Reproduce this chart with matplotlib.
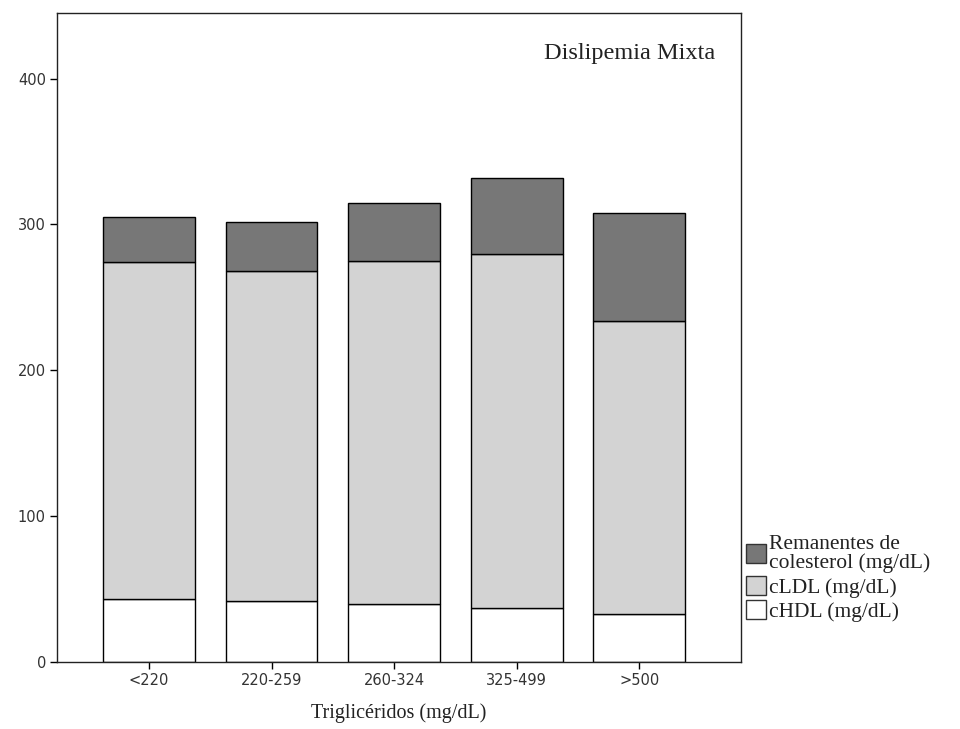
import matplotlib
matplotlib.use("Agg")
import matplotlib.pyplot as plt
from matplotlib.patches import Patch
import numpy as np

categories = ["<220", "220-259", "260-324", "325-499", ">500"]
hdl = [43, 42, 40, 37, 33]
ldl = [231, 226, 235, 243, 201]
remanentes = [31, 34, 40, 52, 74]

series_labels = ["cHDL (mg/dL)", "cLDL (mg/dL)", "Remanentes de\ncolesterol (mg/dL)"]
series_colors = ["#ffffff", "#d3d3d3", "#777777"]
y_ticks = [0, 100, 200, 300, 400]

fig = plt.figure(figsize=(9.6, 7.29), dpi=100)
ax = fig.add_axes([57 / 960, 67 / 729, 684 / 960, 649 / 729])

x = np.arange(len(categories))
bottom = np.zeros(len(categories))
for vals, color in zip([hdl, ldl, remanentes], series_colors):
    ax.bar(x, vals, width=0.75, bottom=bottom, color=color,
           edgecolor="black", linewidth=1.0)
    bottom += np.array(vals)

ax.set_xlim(-0.75, 4.83)
ax.set_ylim(0, 445)
ax.set_xticks(x)
ax.set_xticklabels(categories, fontsize=10.5, family="DejaVu Sans", color="#333333")
ax.set_yticks(y_ticks)
ax.set_yticklabels([str(v) for v in y_ticks], fontsize=10.5, family="DejaVu Sans",
                   color="#333333")
ax.tick_params(axis="both", direction="out", length=5, width=1, color="black", pad=3)
for s in ax.spines.values():
    s.set_linewidth(1.0)
    s.set_color("#222222")

ax.set_xlabel("Triglicéridos (mg/dL)", family="Liberation Serif", fontsize=14.5,
              labelpad=11, color="#222222")
ax.text(0.962, 0.929, "Dislipemia Mixta", transform=ax.transAxes, ha="right",
        va="baseline", family="Liberation Serif", fontsize=17.5, color="#222222")

handles = [Patch(facecolor=c, edgecolor="#333333", linewidth=1.0)
           for c in series_colors]
leg = ax.legend(handles[::-1], series_labels[::-1], loc="lower left",
                bbox_to_anchor=(746 / 960, 107 / 729), bbox_transform=fig.transFigure,
                frameon=False, prop={"family": "Liberation Serif", "size": 15.5},
                handlelength=0.95, handleheight=0.95, handletextpad=0.12,
                labelspacing=0.12, borderaxespad=0, borderpad=0)
for t in leg.get_texts():
    t.set_color("#222222")
    t.set_linespacing(1.0)

fig.savefig("out.png", dpi=100)
